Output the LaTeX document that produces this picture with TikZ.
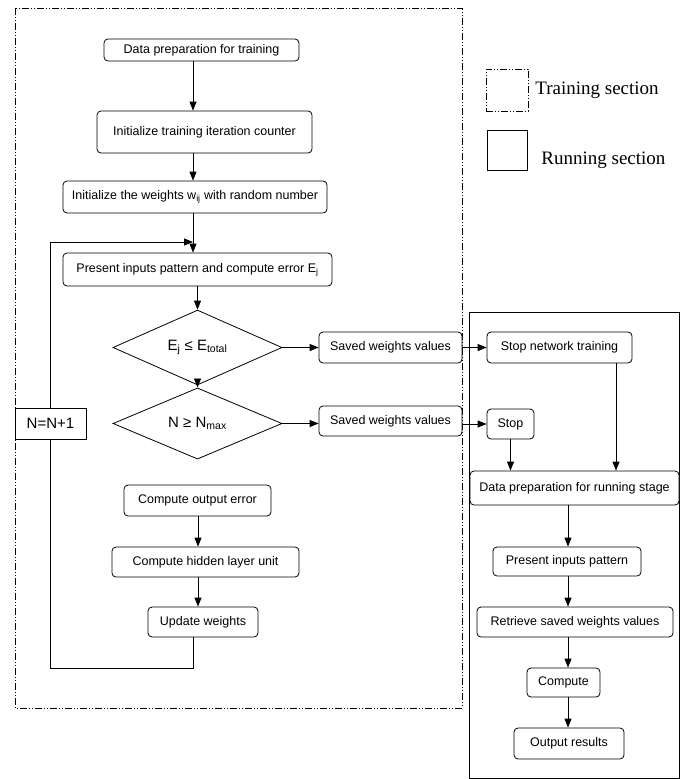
\documentclass[tikz,border=0pt]{standalone}
\usepackage{fontspec}
\setmainfont{Liberation Sans}
\newfontfamily\legendfont{Liberation Serif}
\usetikzlibrary{shapes.geometric,arrows.meta}

\tikzset{
  stepbox/.style={draw, rounded corners=4pt, fill=white, inner sep=0pt,
    font=\fontsize{12.5}{14}\selectfont},
  decision/.style={draw, diamond, fill=white, inner sep=0pt,
    minimum width=169pt, minimum height=59pt, font=\fontsize{15}{17}\selectfont},
  counterbox/.style={draw, fill=white, inner sep=0pt, minimum width=71pt,
    minimum height=31pt, font=\fontsize{15}{17}\selectfont},
  trainframe/.style={dash pattern=on 7pt off 2pt on 1pt off 2pt on 1pt off 2pt},
  legendtext/.style={anchor=west, inner sep=0pt, font=\legendfont\fontsize{19}{21}\selectfont},
}

\begin{document}
\begin{tikzpicture}[x=1pt, y=-1pt, >={Triangle[length=9pt,width=7pt]}, line width=0.8pt]
	\useasboundingbox (0,0) rectangle (680,779);
	
	% --- Frames of the two sections ---
	\draw[trainframe] (15,8) rectangle (462,708);
	\draw (469,312) rectangle (679.5,778.5);
	
	% --- Legend ---
	\node[draw, trainframe, minimum size=42pt] (legtrain) at (507,90) {};
	\node[legendtext] (legtraintxt) at (535,90) {Training section};
	\node[draw, minimum size=40pt] (legrun) at (507,150) {};
	\node[legendtext] (legruntxt) at (541,160) {Running section};
	
	% --- Training steps ---
	\coordinate (colA) at (193,0);
	\coordinate (colD) at (198,0);
	\node[stepbox, minimum width=195pt, minimum height=22pt] (prep) at (201.5,50) {Data preparation for training};
	\node[stepbox, minimum width=215pt, minimum height=42pt] (init) at (204.5,132) {Initialize training iteration counter};
	\node[stepbox, minimum width=264pt, minimum height=32pt] (wts) at (195,197) {Initialize the weights w\textsubscript{ij} with random number};
	\node[stepbox, minimum width=269pt, minimum height=33pt] (present) at (197.5,269.5) {Present inputs pattern and compute error E\textsubscript{j}};
	\node[decision] (test1) at (197.5,347.5) {E\textsubscript{j} ≤ E\textsubscript{total}};
	\node[decision] (test2) at (197.5,423.5) {N ≥ N\textsubscript{max}};
	\node[stepbox, minimum width=143pt, minimum height=31pt] (save1) at (390.5,347.5) {Saved weights values};
	\node[stepbox, minimum width=143pt, minimum height=30pt] (save2) at (390.5,421) {Saved weights values};
	\node[counterbox] (count) at (50.5,423.5) {N=N+1};
	\node[stepbox, minimum width=147pt, minimum height=31pt] (outerr) at (197.5,500.5) {Compute output error};
	\node[stepbox, minimum width=187pt, minimum height=30pt] (hidden) at (205.5,562) {Compute hidden layer unit};
	\node[stepbox, minimum width=110pt, minimum height=30pt] (upd) at (203,622) {Update weights};
	
	\draw[->] (prep.south -| colA) -- (init.north -| colA);
	\draw[->] (init.south -| colA) -- (wts.north -| colA);
	\draw[->] (wts.south -| colA) -- (present.north -| colA);
	\draw[->] (present.south -| test1) -- (test1.north);
	\draw[->] (test1.south) -- (test2.north);
	\draw[->] (test1.east) -- (save1.west);
	\draw[->] (test2.east) -- (test2.east -| save2.west);
	\draw[->] (outerr.south -| colD) -- (hidden.north -| colD);
	\draw[->] (hidden.south -| colD) -- (upd.north -| colD);
	
	% --- Loop back ---
	\coordinate (loopbot) at (50.5,668);
	\coordinate (looptop) at (193,242);
	\draw (upd.south -| colA) |- (loopbot) -- (count.south);
	\draw[->] (count.north) |- (looptop);
	
	% --- Running steps ---
	\coordinate (colB) at (568,0);
	\coordinate (colC) at (616,0);
	\node[stepbox, minimum width=145pt, minimum height=31pt] (stopnet) at (559.5,347.5) {Stop network training};
	\node[stepbox, minimum width=47pt, minimum height=30pt] (stop) at (510.5,424) {Stop};
	\node[stepbox, minimum width=209pt, minimum height=34pt] (runprep) at (574.5,488) {Data preparation for running stage};
	\node[stepbox, minimum width=148pt, minimum height=29pt] (runpres) at (567,561.5) {Present inputs pattern};
	\node[stepbox, minimum width=196pt, minimum height=30pt] (retr) at (575,622) {Retrieve saved weights values};
	\node[stepbox, minimum width=73pt, minimum height=29pt] (comp) at (563.5,682.5) {Compute};
	\node[stepbox, minimum width=110pt, minimum height=31pt] (outres) at (569,743.5) {Output results};
	
	\draw[->] (save1.east) -- (stopnet.west);
	\draw[->] (save2.east |- stop.west) -- (stop.west);
	\draw[->] (stop.south) -- (stop.south |- runprep.north);
	\draw[->] (stopnet.south -| colC) -- (runprep.north -| colC);
	\draw[->] (runprep.south -| colB) -- (runpres.north -| colB);
	\draw[->] (runpres.south -| colB) -- (retr.north -| colB);
	\draw[->] (retr.south -| colB) -- (comp.north -| colB);
	\draw[->] (comp.south -| colB) -- (outres.north -| colB);
\end{tikzpicture}
\end{document}
